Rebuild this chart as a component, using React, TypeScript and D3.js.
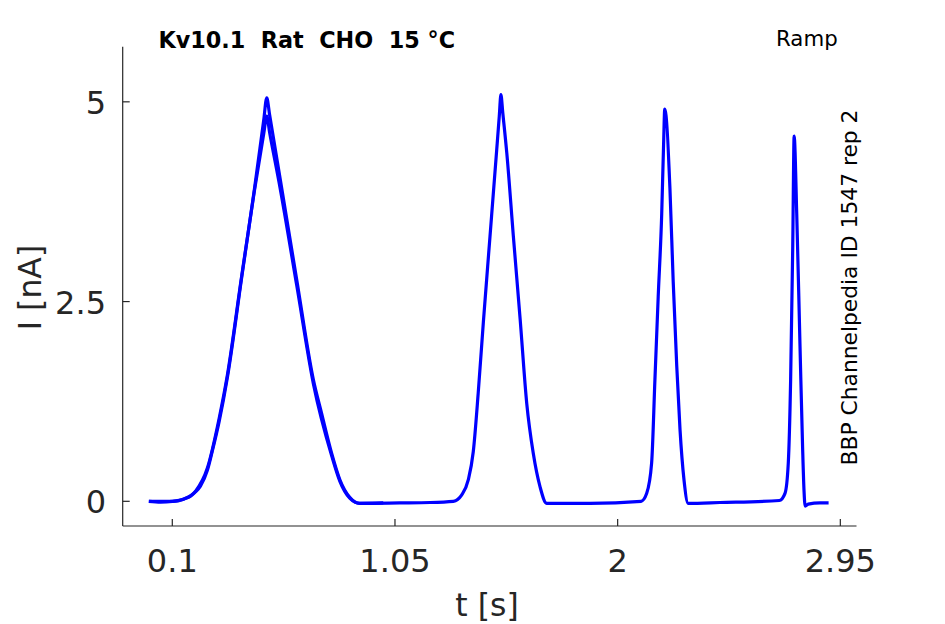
import { useRef, useEffect } from "react";
import * as d3 from "d3";

// sweep 1: full ramp recording [t (s), I (nA)]
const sweep1: [number, number][] = [
  [0.0, 0.0], [0.05, -0.01], [0.1, 0.0], [0.15, 0.03], [0.175, 0.06],
  [0.2, 0.12], [0.22, 0.19], [0.25, 0.39], [0.27, 0.62], [0.3, 1.0],
  [0.335, 1.55], [0.396, 2.8], [0.45, 3.9], [0.49, 4.77], [0.503, 5.05],
  [0.515, 4.84], [0.56, 4.04], [0.631, 2.77], [0.702, 1.52], [0.737, 1.1],
  [0.78, 0.6], [0.815, 0.27], [0.857, 0.05], [0.88, -0.01], [0.9, -0.025],
  [1.07, -0.02], [1.2, -0.015], [1.299, 0.0], [1.335, 0.08], [1.363, 0.27],
  [1.384, 0.62], [1.405, 1.35], [1.427, 2.24], [1.455, 3.3], [1.484, 4.4],
  [1.495, 4.82], [1.502, 5.09], [1.51, 4.86], [1.527, 4.36], [1.555, 3.32],
  [1.584, 2.28], [1.612, 1.23], [1.64, 0.6], [1.669, 0.18], [1.697, -0.025],
  [1.882, -0.025], [2.1, 0.0], [2.124, 0.1], [2.145, 0.48], [2.159, 1.52],
  [2.173, 2.56], [2.188, 3.6], [2.196, 4.47], [2.201, 4.91], [2.223, 3.92],
  [2.237, 2.75], [2.252, 1.7], [2.266, 0.9], [2.283, 0.27],
  [2.301, -0.025], [2.436, -0.015], [2.69, 0.01], [2.714, 0.1], [2.728, 0.48],
  [2.738, 1.52], [2.747, 3.19], [2.753, 4.57], [2.764, 3.6], [2.778, 1.94],
  [2.789, 0.68], [2.795, 0.14], [2.8, -0.06], [2.813, -0.035], [2.863, -0.02],
  [2.9, -0.02],
];

// sweep 2: only differs visibly on the first ramp
const sweep2: [number, number][] = [
  [0.0, 0.0], [0.1, 0.0], [0.15, 0.03], [0.2, 0.13], [0.25, 0.42],
  [0.3, 1.04], [0.335, 1.58], [0.396, 2.82], [0.45, 3.88], [0.49, 4.6],
  [0.503, 4.82], [0.515, 4.62], [0.56, 3.92], [0.631, 2.7], [0.702, 1.47],
  [0.78, 0.57], [0.815, 0.25], [0.857, 0.04], [0.9, -0.025], [1.0, -0.02],
];

const xTicks = [0.1, 1.05, 2, 2.95];
const xTickLabels = ["0.1", "1.05", "2", "2.95"];
const yTicks = [0, 2.5, 5];
const yTickLabels = ["0", "2.5", "5"];

const title = "Kv10.1  Rat  CHO  15 °C";
const protocol = "Ramp";
const sideNote = "BBP Channelpedia ID 1547 rep 2";

const W = 945;
const H = 624;
const font = "DejaVu Sans, sans-serif";
const axisColor = "#262626";

const App = () => {
  const svgRef = useRef(null);

  useEffect(() => {
    if (!svgRef.current) return;
    const svg = d3.select(svgRef.current);
    svg.selectAll("*").remove();

    const x = d3.scaleLinear().domain([-0.1116, 3.019]).range([122.7, 856.5]);
    const y = d3.scaleLinear().domain([-0.309, 5.69]).range([526, 46.7]);

    //  axes lines
    const g = svg.append("g");
    g.append("line")
      .attr("x1", x.range()[0]).attr("x2", x.range()[1])
      .attr("y1", y.range()[0]).attr("y2", y.range()[0])
      .attr("stroke", axisColor).attr("stroke-width", 1.2);
    g.append("line")
      .attr("x1", x.range()[0]).attr("x2", x.range()[0])
      .attr("y1", y.range()[0]).attr("y2", y.range()[1])
      .attr("stroke", axisColor).attr("stroke-width", 1.2);

    //  x ticks
    g.selectAll("line.xt")
      .data(xTicks)
      .join("line")
      .attr("class", "xt")
      .attr("x1", (d) => x(d)).attr("x2", (d) => x(d))
      .attr("y1", y.range()[0]).attr("y2", y.range()[0] - 7)
      .attr("stroke", axisColor).attr("stroke-width", 1.2);
    g.selectAll("text.xl")
      .data(xTicks)
      .join("text")
      .attr("class", "xl")
      .attr("x", (d) => x(d))
      .attr("y", 571.7)
      .attr("text-anchor", "middle")
      .attr("font-family", font)
      .attr("font-size", 32)
      .attr("fill", axisColor)
      .text((_, i) => xTickLabels[i]);

    //  y ticks
    g.selectAll("line.yt")
      .data(yTicks)
      .join("line")
      .attr("class", "yt")
      .attr("x1", x.range()[0]).attr("x2", x.range()[0] + 7)
      .attr("y1", (d) => y(d)).attr("y2", (d) => y(d))
      .attr("stroke", axisColor).attr("stroke-width", 1.2);
    g.selectAll("text.yl")
      .data(yTicks)
      .join("text")
      .attr("class", "yl")
      .attr("x", 106)
      .attr("y", (d) => y(d) + 12)
      .attr("text-anchor", "end")
      .attr("font-family", font)
      .attr("font-size", 32)
      .attr("fill", axisColor)
      .text((_, i) => yTickLabels[i]);

    //  axis labels
    g.append("text")
      .attr("x", 487).attr("y", 616)
      .attr("text-anchor", "middle")
      .attr("font-family", font).attr("font-size", 31.5)
      .attr("fill", axisColor)
      .text("t [s]");
    g.append("text")
      .attr("transform", "translate(41,287.5) rotate(-90)")
      .attr("text-anchor", "middle")
      .attr("font-family", font).attr("font-size", 31.5)
      .attr("fill", axisColor)
      .text("I [nA]");

    //  traces
    const line = d3
      .line<[number, number]>()
      .x((d) => x(d[0]))
      .y((d) => y(d[1]))
      .curve(d3.curveMonotoneX);

    svg.append("g")
      .attr("fill", "none")
      .attr("stroke", "#0000ff")
      .attr("stroke-width", 3.2)
      .attr("stroke-linejoin", "round")
      .selectAll("path")
      .data([sweep2, sweep1])
      .join("path")
      .attr("d", (d) => line(d));

    //  annotations
    svg.append("text")
      .attr("x", 158.5).attr("y", 47.7)
      .attr("font-family", font).attr("font-weight", "bold")
      .attr("font-size", 22.3).attr("fill", "#000")
      .attr("xml:space", "preserve")
      .style("white-space", "pre")
      .text(title);
    svg.append("text")
      .attr("x", 776).attr("y", 45.7)
      .attr("font-family", font).attr("font-size", 21.3)
      .attr("fill", "#000")
      .text(protocol);
    svg.append("text")
      .attr("transform", "translate(857,287.5) rotate(-90)")
      .attr("text-anchor", "middle")
      .attr("font-family", font).attr("font-size", 21.8)
      .attr("fill", "#000")
      .text(sideNote);
  }, [svgRef]);

  return (
    <svg
      ref={svgRef}
      width={W}
      height={H}
      style={{ position: "absolute", left: 0, top: 0, background: "#fff" }}
    />
  );
};

export default App;
